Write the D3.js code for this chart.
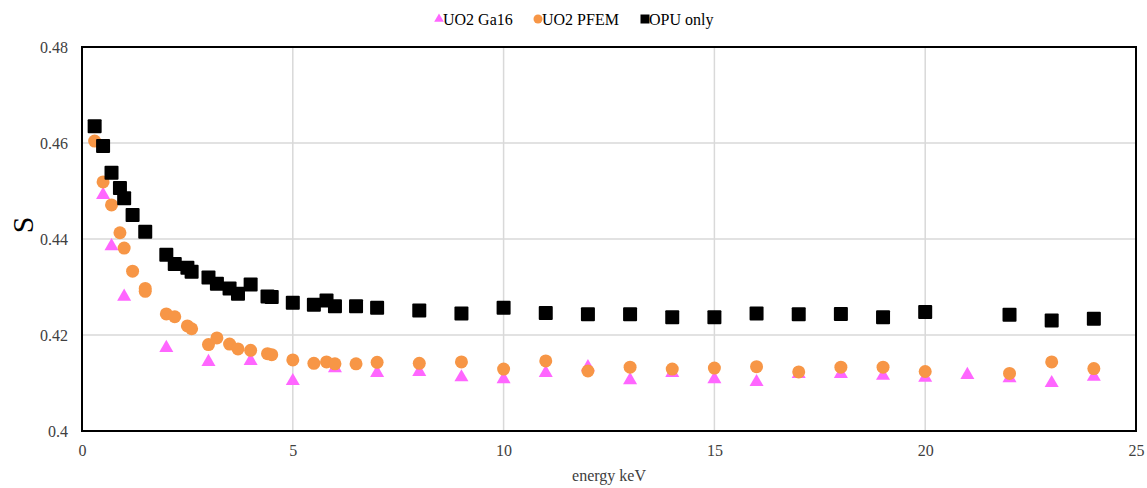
<!DOCTYPE html>
<html>
<head>
<meta charset="utf-8">
<script src="https://cdn.jsdelivr.net/npm/d3@7"></script>
<style>
  html, body { margin: 0; padding: 0; background: #fff; }
  svg { display: block; }
</style>
</head>
<body>
<svg id="chart" width="1147" height="488"></svg>
<script>
// ---- data ----
const gaEnergy = [0.5, 0.7, 1.0, 2.0, 3.0, 4.0, 5.0, 6.0, 7.0, 8, 9, 10, 11, 12, 13, 14, 15, 16, 17, 18, 19, 20, 21, 22, 23, 24];
const gaS      = [0.4492, 0.4385, 0.4280, 0.4173, 0.4144, 0.4146, 0.4104, 0.4131, 0.4121, 0.4123, 0.4112, 0.4108, 0.4121, 0.4133, 0.4106, 0.4121, 0.4108, 0.4102, 0.4119, 0.4119, 0.4115, 0.4111, 0.4117, 0.4110, 0.4100, 0.4113];

const pfemEnergy = [0.3, 0.5, 0.7, 0.9, 1.0, 1.2, 1.5, 1.5, 2.0, 2.2, 2.5, 2.6, 3.0, 3.2, 3.5, 3.7, 4.0, 4.4, 4.5, 5.0, 5.5, 5.8, 6.0, 6.5, 7.0, 8, 9, 10, 11, 12, 13, 14, 15, 16, 17, 18, 19, 20, 22, 23, 24];
const pfemS      = [0.4604, 0.4519, 0.4471, 0.4413, 0.4381, 0.4333, 0.4297, 0.4291, 0.4244, 0.4238, 0.4219, 0.4213, 0.4180, 0.4194, 0.4181, 0.4171, 0.4168, 0.4161, 0.4159, 0.4148, 0.4141, 0.4144, 0.4140, 0.4140, 0.4143, 0.4141, 0.4144, 0.4129, 0.4146, 0.4125, 0.4133, 0.4129, 0.4131, 0.4134, 0.4123, 0.4133, 0.4133, 0.4124, 0.4120, 0.4144, 0.4130];

const opuEnergy = [0.3, 0.5, 0.7, 0.9, 1.0, 1.2, 1.5, 2.0, 2.2, 2.5, 2.6, 3.0, 3.2, 3.5, 3.7, 4.0, 4.4, 4.5, 5.0, 5.5, 5.8, 6.0, 6.5, 7.0, 8, 9, 10, 11, 12, 13, 14, 15, 16, 17, 18, 19, 20, 22, 23, 24];
const opuS      = [0.4635, 0.4594, 0.4538, 0.4506, 0.4485, 0.4450, 0.4415, 0.4367, 0.4348, 0.4340, 0.4332, 0.4320, 0.4307, 0.4297, 0.4286, 0.4305, 0.4280, 0.4279, 0.4267, 0.4263, 0.4272, 0.4260, 0.4260, 0.4257, 0.4251, 0.4245, 0.4257, 0.4246, 0.4243, 0.4243, 0.4237, 0.4237, 0.4245, 0.4243, 0.4244, 0.4237, 0.4248, 0.4242, 0.4230, 0.4234];

const xTicks = [0, 5, 10, 15, 20, 25];
const yTicks = [0.40, 0.42, 0.44, 0.46, 0.48];
const seriesNames = ["UO2 Ga16", "UO2 PFEM", "OPU only"];

// ---- layout ----
const FONT = "'Liberation Serif', 'Times New Roman', serif";
const svg = d3.select("#chart");
const pLeft = 82, pRight = 1136, pTop = 47, pBottom = 431;

const x = d3.scaleLinear().domain([0, 25]).range([pLeft, pRight]);
const y = d3.scaleLinear().domain([0.40, 0.48]).range([pBottom, pTop]);

// gridlines
svg.append("g").selectAll("line").data(xTicks.slice(1, -1)).join("line")
  .attr("x1", d => x(d)).attr("x2", d => x(d)).attr("y1", pTop).attr("y2", pBottom)
  .attr("stroke", "#d9d9d9").attr("stroke-width", 1.5);
svg.append("g").selectAll("line").data(yTicks.slice(1, -1)).join("line")
  .attr("x1", pLeft).attr("x2", pRight).attr("y1", d => y(d)).attr("y2", d => y(d))
  .attr("stroke", "#d9d9d9").attr("stroke-width", 1.5);

// frame
svg.append("rect").attr("x", pLeft).attr("y", pTop).attr("width", pRight - pLeft).attr("height", pBottom - pTop)
  .attr("fill", "none").attr("stroke", "#000").attr("stroke-width", 2);

// axes (labels only)
const xAxis = svg.append("g").attr("transform", `translate(0,${pBottom})`)
  .call(d3.axisBottom(x).tickValues(xTicks).tickSize(0).tickPadding(14).tickFormat(d3.format("d")));
xAxis.select(".domain").remove();
xAxis.selectAll("text").style("font-size", "16px").style("fill", "#404040").style("font-family", FONT);

const yAxis = svg.append("g").attr("transform", `translate(${pLeft},0)`)
  .call(d3.axisLeft(y).tickValues(yTicks).tickSize(0).tickPadding(14).tickFormat(d => +d.toFixed(2) + ""));
yAxis.select(".domain").remove();
yAxis.selectAll("text").style("font-size", "16px").style("fill", "#404040").style("font-family", FONT);

// axis titles
svg.append("text").attr("x", (pLeft + pRight) / 2).attr("y", 481).attr("text-anchor", "middle")
  .style("font-size", "16px").style("fill", "#404040").style("font-family", FONT).text("energy keV");
svg.append("text").attr("transform", `translate(33,${(pTop + pBottom) / 2 - 14}) rotate(-90)`)
  .attr("text-anchor", "middle").style("font-size", "30px").style("fill", "#000").style("font-family", FONT).text("S");

// colours
const colGa = "#ff66ff", colPf = "#f79646", colOpu = "#000000";

// markers
const tri = d3.symbol().type(d3.symbolTriangle).size(85);
svg.append("g").selectAll("path").data(gaEnergy.map((e, i) => [e, gaS[i]])).join("path")
  .attr("d", tri).attr("transform", d => `translate(${x(d[0])},${y(d[1])})`).attr("fill", colGa);

svg.append("g").selectAll("circle").data(pfemEnergy.map((e, i) => [e, pfemS[i]])).join("circle")
  .attr("cx", d => x(d[0])).attr("cy", d => y(d[1])).attr("r", 6.5).attr("fill", colPf);

svg.append("g").selectAll("rect").data(opuEnergy.map((e, i) => [e, opuS[i]])).join("rect")
  .attr("x", d => x(d[0]) - 7).attr("y", d => y(d[1]) - 7).attr("width", 14).attr("height", 14)
  .attr("rx", 1).attr("fill", colOpu);

// legend
const legend = svg.append("g").attr("transform", "translate(0,19)");
const legendItems = [
  { name: seriesNames[0], color: colGa, shape: "tri", x: 439 },
  { name: seriesNames[1], color: colPf, shape: "circle", x: 538 },
  { name: seriesNames[2], color: colOpu, shape: "square", x: 645 }
];
legendItems.forEach(it => {
  const g = legend.append("g").attr("transform", `translate(${it.x},0)`);
  if (it.shape === "tri") g.append("path").attr("d", d3.symbol().type(d3.symbolTriangle).size(40)).attr("fill", it.color);
  else if (it.shape === "circle") g.append("circle").attr("r", 4.5).attr("fill", it.color);
  else g.append("rect").attr("x", -4.5).attr("y", -4.5).attr("width", 9).attr("height", 9).attr("fill", it.color);
  g.append("text").attr("x", 4).attr("y", 5.5).style("font-size", "16px").style("fill", "#000")
    .style("font-family", FONT).text(it.name);
});
</script>
</body>
</html>
